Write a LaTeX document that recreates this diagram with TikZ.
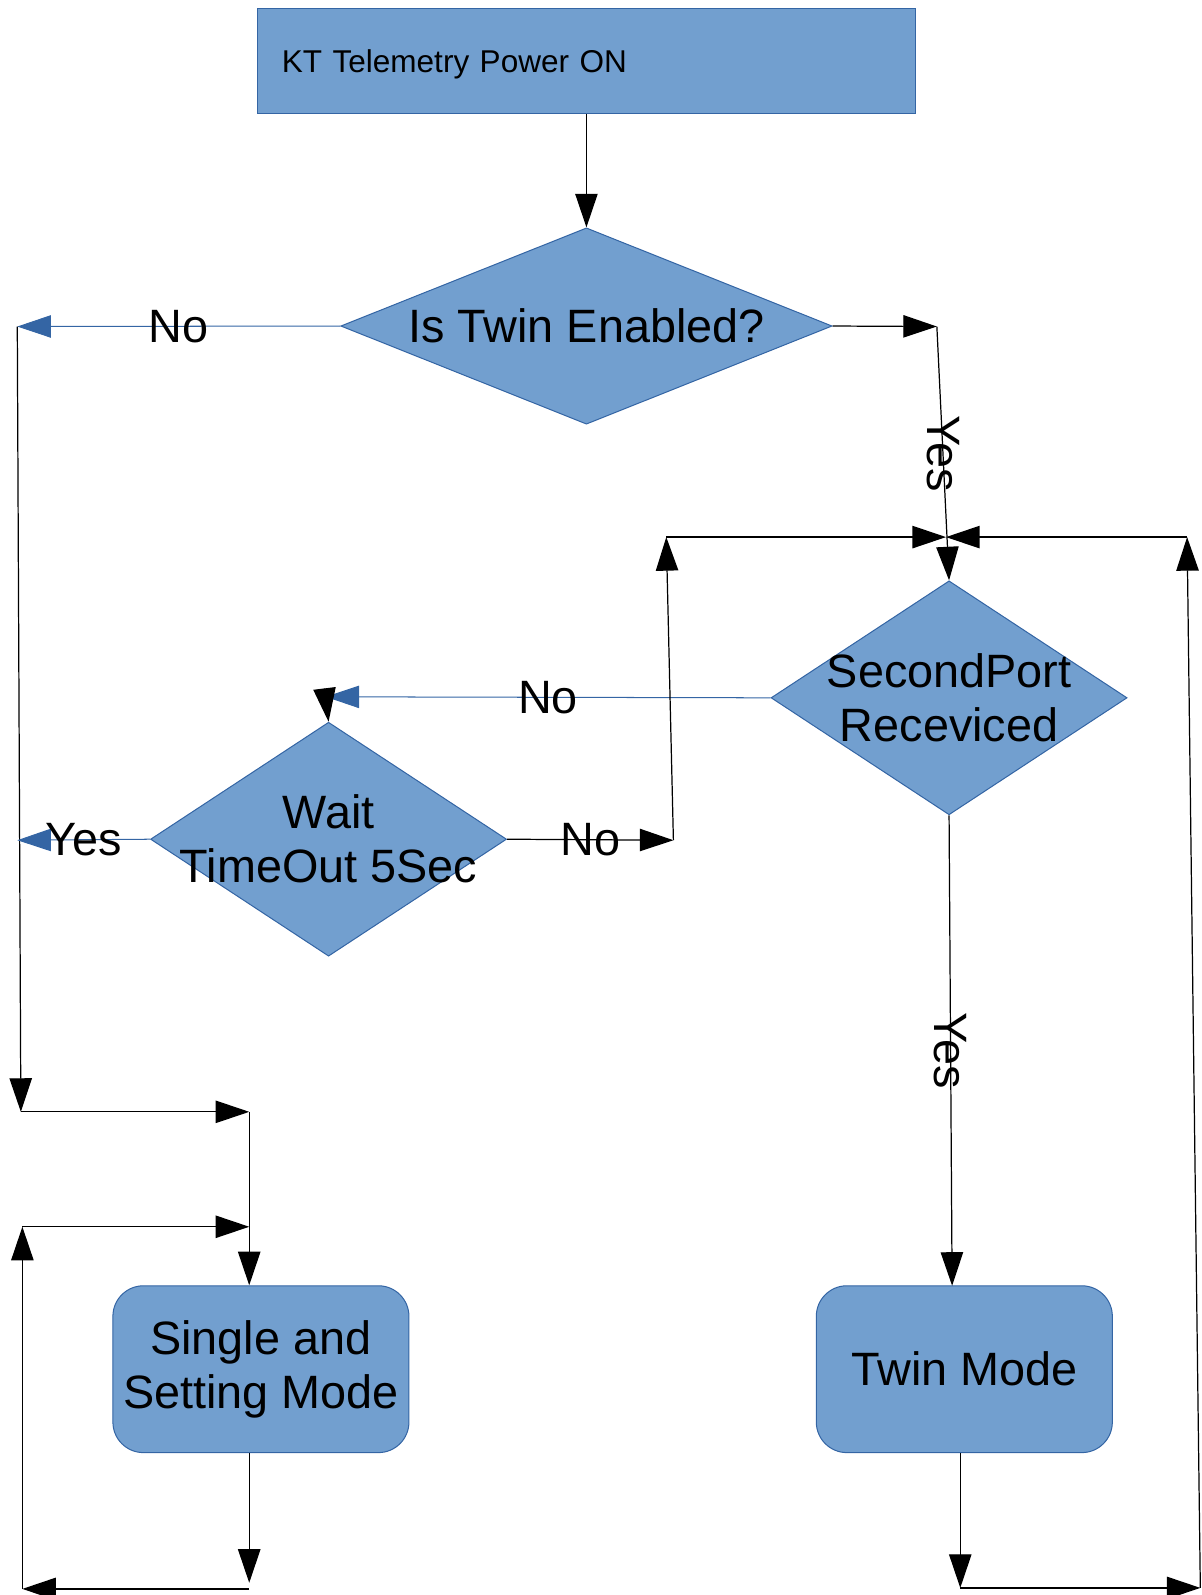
\documentclass[tikz,border=0pt]{standalone}
\usepackage{fontspec}
\setmainfont{Liberation Sans}
\usetikzlibrary{arrows.meta,shapes.geometric}

\definecolor{boxfill}{HTML}{729FCF}
\definecolor{boxedge}{HTML}{3465A4}

\tikzset{
	big/.style={font=\fontsize{23}{26.5}\selectfont},
	decision/.style={diamond, draw=boxedge, fill=boxfill, line width=0.5pt, inner sep=0pt},
	mode/.style={rectangle, rounded corners=15pt, draw=boxedge, fill=boxfill, line width=0.5pt,
		minimum width=145.5pt, minimum height=82pt, align=center, big},
	flow/.style={draw=black, line width=0.6pt, -{Triangle[length=16.5pt,width=11pt]}},
	noflow/.style={draw=boxedge, line width=0.5pt, -{Triangle[length=16.5pt,width=11pt]}},
}

\begin{document}
\begin{tikzpicture}[x=0.5pt, y=-0.5pt]
		\useasboundingbox (0,0) rectangle (1181,1568);

		% Draw the start box
		\node[rectangle, draw=boxedge, fill=boxfill, line width=0.5pt, minimum height=52pt,
			inner xsep=12pt, text width=299.5pt, text depth=0pt, align=left,
			font=\fontsize{15.5}{18}\selectfont]
			(power) at (576.5,60) {KT Telemetry Power ON};

		% Draw the decisions
		\node[decision, minimum width=241.5pt, minimum height=96.5pt,
			label={[big]center:Is Twin Enabled?}] (twin) at (576.5,320.5) {};
		\node[decision, minimum width=175pt, minimum height=115pt,
			label={[big, align=center]center:SecondPort\\Receviced}] (second) at (933,686) {};
		\node[decision, minimum width=175pt, minimum height=115pt,
			label={[big, align=center]center:Wait\\TimeOut 5Sec}] (wait) at (323,825) {};

		% Draw the modes
		\node[mode] (single) at (256.5,1346) {Single and\\Setting Mode};
		\node[mode] (twinmode) at (948,1346) {Twin Mode};

		% Bends of the connectors
		\coordinate (noTwin) at (17,321);
		\coordinate (leftLow) at (20.5,1093);
		\coordinate (intoSingle) at (245,1093);
		\coordinate (yesTwin) at (921,321);
		\coordinate (merge) at (930,528);
		\coordinate (loopL) at (655,528);
		\coordinate (noWait) at (662,826);
		\coordinate (noSecond) at (320,685);
		\coordinate (yesWait) at (17,826);
		\coordinate (intoTwin) at (936,1264);
		\coordinate (outTwin) at (944,1561);
		\coordinate (rightLow) at (1180,1561);
		\coordinate (loopR) at (1167,528);
		\coordinate (outSingle) at (245,1556);
		\coordinate (backLow) at (22,1562);
		\coordinate (backTop) at (22,1206);

		% Start and first decision
		\draw[flow] (power.south) -- (twin.north);
		\draw[noflow] (twin.west) -- node[big] {No} (noTwin);
		\draw[flow] (noTwin) -- (leftLow);
		\draw[flow] (leftLow) -- (intoSingle);
		\draw[flow] (intoSingle) -- (intoSingle |- single.north);
		\draw[flow] (twin.east) -- (yesTwin);
		\draw[flow] (yesTwin) -- node[big, rotate=-90] {Yes} (second.north);

		% Waiting for the second port
		\draw[flow] (loopL) -- (merge);
		\draw[flow] (loopR) -- (merge);
		\draw[noflow] (second.west) -- node[big] {No} (noSecond);
		\draw[flow] (noSecond) -- (wait.north);
		\draw[noflow] (wait.west) -- node[big] {Yes} (yesWait);
		\draw[flow] (wait.east) -- node[big] {No} (noWait);
		\draw[flow] (noWait) -- (loopL);
		\draw[flow] (second.south) -- node[big, rotate=-90] {Yes} (intoTwin);

		% Loops back from the modes
		\draw[flow] (twinmode.south -| outTwin) -- (outTwin);
		\draw[flow] (outTwin) -- (rightLow);
		\draw[flow] (rightLow) -- (loopR);
		\draw[flow] (intoSingle |- single.south) -- (outSingle);
		\draw[flow] (outSingle |- backLow) -- (backLow);
		\draw[flow] (backLow) -- (backTop);
		\draw[flow] (backTop) -- (backTop -| intoSingle);
	\end{tikzpicture}
\end{document}
